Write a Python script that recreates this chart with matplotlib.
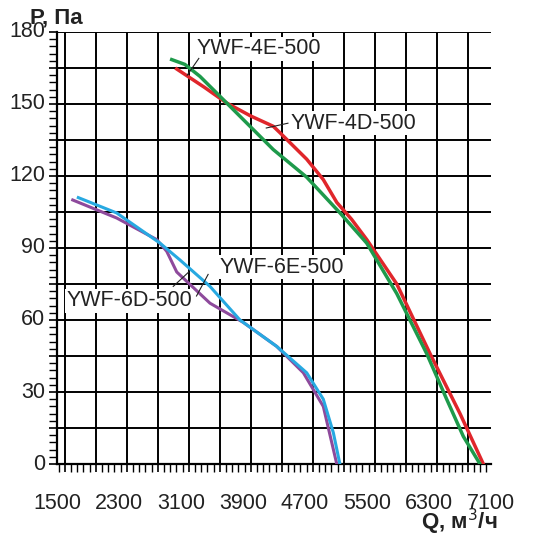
import matplotlib
matplotlib.use("Agg")
import matplotlib.pyplot as plt
import numpy as np
from matplotlib.ticker import MultipleLocator

plt.rcParams['font.family'] = ['Liberation Sans', 'DejaVu Sans']

red_q = [3044, 3400, 3690, 4000, 4291, 4378, 4722, 4936, 5110, 5300, 5497, 5884, 6313, 6700, 7001]
red_p = [164.6, 157, 150.4, 145, 140.7, 138, 127, 118.5, 109, 102, 93.5, 75, 46, 21, 0]
green_q = [2980, 3150, 3345, 3690, 4291, 4722, 5152, 5497, 5884, 6270, 6528, 6743, 6958]
green_p = [168.5, 166.5, 161.5, 150.4, 131, 119.5, 104.6, 92, 71, 46, 27, 11.5, 0]
cyan_q = [1775, 2270, 2830, 3087, 3474, 3861, 4335, 4722, 4936, 5066, 5150]
cyan_p = [111, 104.6, 92, 85, 74, 60, 49, 38, 27, 13, 0]
purple_q = [1703, 2270, 2787, 2916, 3045, 3474, 3904, 4335, 4679, 4936, 5110]
purple_p = [110, 102.5, 93.5, 88.6, 80, 67, 59, 49, 38, 24, 0]
xticks = [1500, 2300, 3100, 3900, 4700, 5500, 6300, 7100]
yticks = [0, 30, 60, 90, 120, 150, 180]

W, H = 547, 535
fig = plt.figure(figsize=(W/100, H/100), dpi=100)
ax = fig.add_axes([57/W, 1-464/H, (491-57)/W, (464-32)/H])
ax.set_xlim(1500, 7100)
ax.set_ylim(0, 180)
ax.xaxis.set_major_locator(MultipleLocator(400))
ax.yaxis.set_major_locator(MultipleLocator(15))
ax.xaxis.set_minor_locator(MultipleLocator(80))
ax.yaxis.set_minor_locator(MultipleLocator(3))
ax.grid(True, which='major', color='black', lw=1.4)
for s in ax.spines.values():
    s.set_visible(False)
ax.set_xticklabels([])
ax.set_yticklabels([])
ax.tick_params(which='major', length=6, width=1.2, color='black', direction='out')
ax.tick_params(which='minor', length=6, width=1, color='black', direction='out')
ax.axhline(0, color='black', lw=1.6, clip_on=False)
ax.axvline(1500, color='black', lw=1.6, clip_on=False)
for t in xticks:
    ax.text(t, -12, str(t), ha='center', va='top', fontsize=15.5, color='#222')
for t in yticks:
    ax.text(1500 - 150, t, str(t), ha='right', va='center', fontsize=15.5, color='#222')

ax.plot(red_q, red_p, color='#e0262b', lw=2.5, zorder=5)
ax.plot(green_q, green_p, color='#1e9a4b', lw=2.5, zorder=5)
ax.plot(purple_q, purple_p, color='#8e4a9c', lw=2.2, zorder=5)
ax.plot(cyan_q, cyan_p, color='#27a9e1', lw=2.2, zorder=6)

bb = dict(facecolor='white', edgecolor='none', pad=1)
def lab(txt, x, y, x1, y1, x2, y2):
    ax.text(x, y, txt, fontsize=15.5, ha='left', va='center', color='#222', bbox=bb, zorder=7)
    ax.plot([x1, x2], [y1, y2], color='#222', lw=0.8, zorder=7)
lab('YWF-4E-500', 3300, 173, 3180, 162, 3330, 169)
lab('YWF-4D-500', 4520, 142, 4200, 140, 4480, 142)
lab('YWF-6E-500', 3600, 82, 3300, 70, 3450, 79)
lab('YWF-6D-500', 1620, 68, 3000, 74, 3200, 80)

fig.text(30/W, 1-18/H, 'P, Па', fontsize=16, fontweight='bold', va='center', ha='left', color='#222')
fig.text(497/W, 1-522/H, 'Q, м$^3$/ч', fontsize=16, fontweight='bold', va='center', ha='right', color='#222')
fig.savefig('out.png', dpi=100)
